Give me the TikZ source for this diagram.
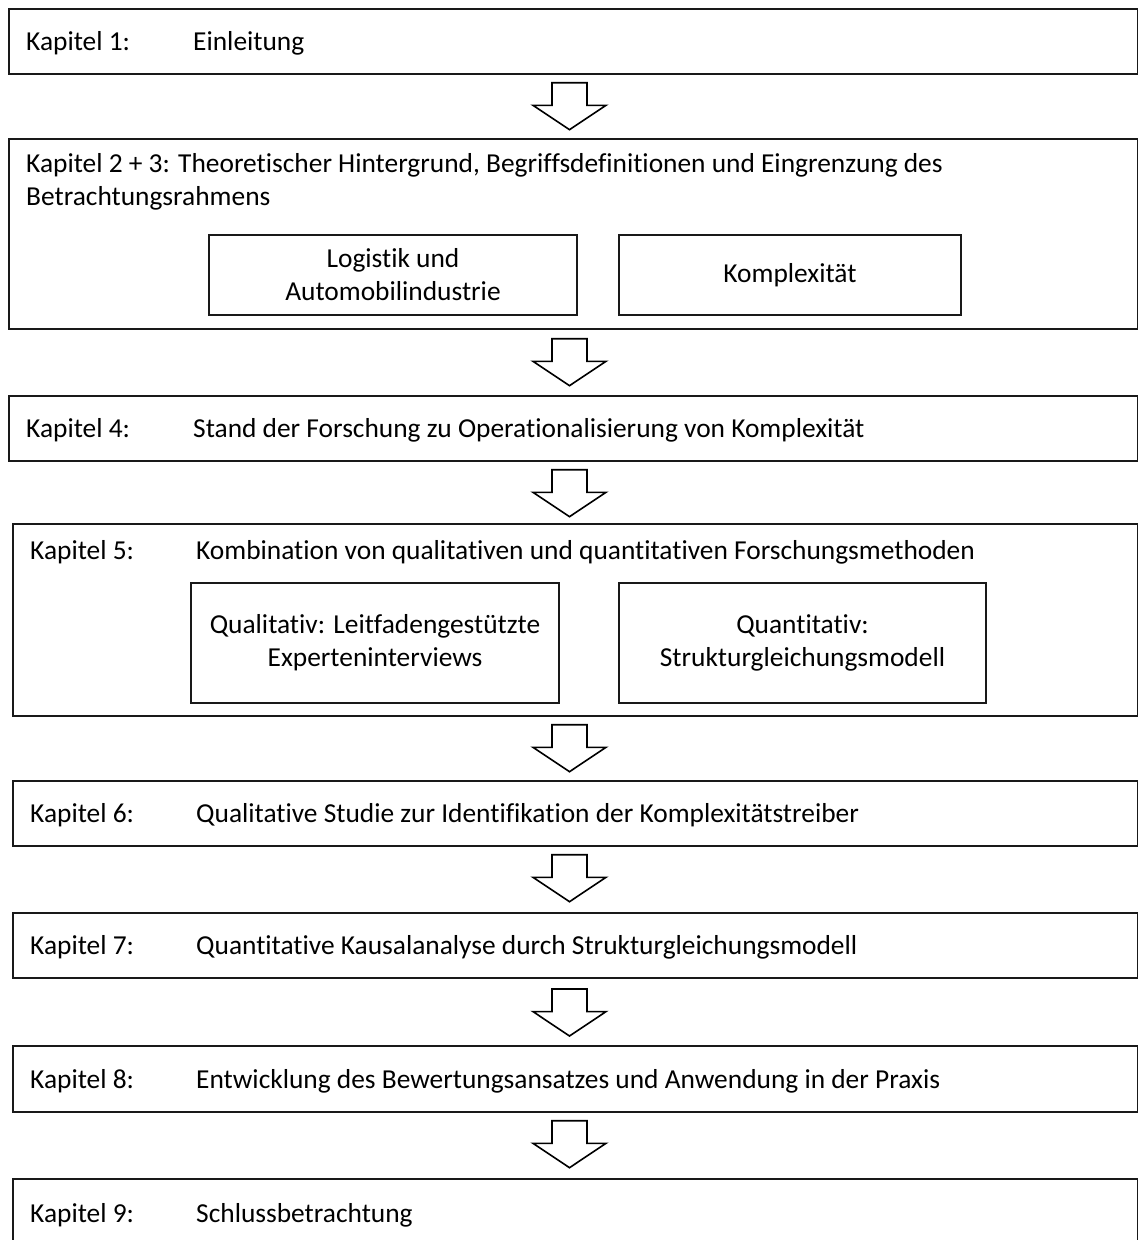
\documentclass[tikz,border=0pt]{standalone}
\usepackage{fontspec}
\setmainfont{Carlito}[Ligatures={NoCommon,NoRequired,NoContextual},Contextuals={NoAlternate}]
\begin{document}
\begin{tikzpicture}[x=1pt,y=-1pt,
  chapbox/.style={draw=black!90, line width=2pt, inner sep=0pt, anchor=north west},
  subbox/.style={draw=black!90, line width=2pt, inner sep=0pt, align=center,
    font=\fontsize{27.4}{33}\selectfont},
  lbl/.style={anchor=base west, inner sep=0pt, font=\fontsize{27.4}{33}\selectfont},
  blockarrow/.style={draw=black, line width=1.6pt, fill=white, line join=miter},
  blockdown/.pic={\draw[blockarrow] (-17.5,0) -- (17.5,0) -- (17.5,22.6) -- (36.5,22.6)
    -- (0,47) -- (-36.5,22.6) -- (-17.5,22.6) -- cycle;}]
\clip (0,0) rectangle (1138,1240);
\fill[white] (0,0) rectangle (1138,1240);

% chapter frames
\node[chapbox, minimum width=1128.5pt, minimum height=65pt]  (k1) at (8,8) {};
\node[chapbox, minimum width=1128.5pt, minimum height=190pt] (k23) at (8,138) {};
\node[chapbox, minimum width=1128.5pt, minimum height=65pt]  (k4) at (8,395) {};
\node[chapbox, minimum width=1124.5pt, minimum height=192pt] (k5) at (12,523) {};
\node[chapbox, minimum width=1124.5pt, minimum height=65pt]  (k6) at (12,780) {};
\node[chapbox, minimum width=1124.5pt, minimum height=65pt]  (k7) at (12,912) {};
\node[chapbox, minimum width=1124.5pt, minimum height=66pt]  (k8) at (12,1045) {};
\node[chapbox, minimum width=1124.5pt, minimum height=100pt] (k9) at (12,1178) {};

% chapter texts
\node[lbl] (t1a) at (26,50) {Kapitel 1:};
\node[lbl] (t1b) at (193,50) {Einleitung};
\node[lbl] (t23a) at (26,172) {Kapitel 2 + 3: Theoretischer Hintergrund, Begriffsdefinitionen und Eingrenzung des};
\node[lbl] (t23b) at (26,205) {Betrachtungsrahmens};
\node[lbl] (t4a) at (26,437) {Kapitel 4:};
\node[lbl] (t4b) at (193,437) {Stand der Forschung zu Operationalisierung von Komplexität};
\node[lbl] (t5a) at (30,559) {Kapitel 5:};
\node[lbl] (t5b) at (196,559) {Kombination von qualitativen und quantitativen Forschungsmethoden};
\node[lbl] (t6a) at (30,822) {Kapitel 6:};
\node[lbl] (t6b) at (196,822) {Qualitative Studie zur Identifikation der Komplexitätstreiber};
\node[lbl] (t7a) at (30,954) {Kapitel 7:};
\node[lbl] (t7b) at (196,954) {Quantitative Kausalanalyse durch Strukturgleichungsmodell};
\node[lbl] (t8a) at (30,1088) {Kapitel 8:};
\node[lbl] (t8b) at (196,1088) {Entwicklung des Bewertungsansatzes und Anwendung in der Praxis};
\node[lbl] (t9a) at (30,1222) {Kapitel 9:};
\node[lbl] (t9b) at (196,1222) {Schlussbetrachtung};

% sub-topic boxes
\node[subbox, minimum width=368pt, minimum height=80pt]  (logistik) at (393,275) {Logistik und\\Automobilindustrie};
\node[subbox, minimum width=342pt, minimum height=80pt]  (komplex)  at (790,275) {Komplexität};
\node[subbox, minimum width=368pt, minimum height=120pt] (quali)    at (375,643) {Qualitativ: Leitfadengestützte\\Experteninterviews};
\node[subbox, minimum width=367pt, minimum height=120pt] (quanti)   at (802.5,643) {Quantitativ:\\Strukturgleichungsmodell};

% block arrows between the chapters
\coordinate (ax) at (569.5,0);
\path (ax |- k1.south)  ++(0,7.7) pic {blockdown};
\path (ax |- k23.south) ++(0,8.7) pic {blockdown};
\path (ax |- k4.south)  ++(0,7.7) pic {blockdown};
\path (ax |- k5.south)  ++(0,7.7) pic {blockdown};
\path (ax |- k6.south)  ++(0,7.7) pic {blockdown};
\path (ax |- k7.south)  ++(0,10) pic {blockdown};
\path (ax |- k8.south)  ++(0,7.7) pic {blockdown};
\end{tikzpicture}
\end{document}
